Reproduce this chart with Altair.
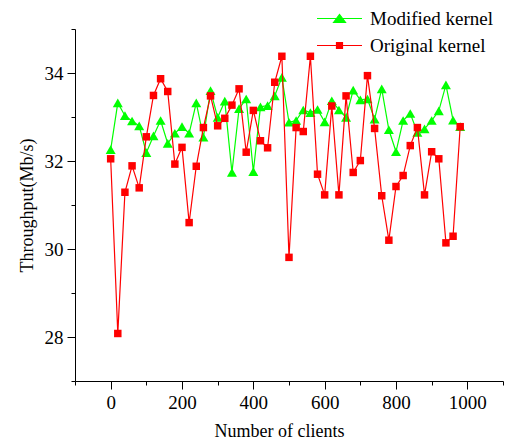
import altair as alt
import pandas as pd

clients = [0, 20, 40, 60, 80, 100, 120, 140, 160, 180,
           200, 220, 240, 260, 280, 300, 320, 340, 360, 380,
           400, 420, 440, 460, 480, 500, 520, 540, 560, 580,
           600, 620, 640, 660, 680, 700, 720, 740, 760, 780,
           800, 820, 840, 860, 880, 900, 920, 940, 960, 980]

modified = [32.26, 33.32, 33.03, 32.91, 32.80, 32.19, 32.57, 32.92, 32.40, 32.63,
            32.78, 32.63, 33.32, 32.54, 33.60, 32.99, 33.36, 31.74, 33.19, 33.41,
            31.76, 33.23, 33.26, 33.48, 33.90, 32.88, 32.92, 33.16, 33.10, 33.17,
            32.89, 33.37, 33.16, 32.99, 33.61, 33.39, 33.41, 32.95, 33.64, 32.71,
            32.21, 32.92, 33.08, 32.65, 32.73, 32.92, 33.14, 33.73, 32.93, 32.78]

original = [32.05, 28.08, 31.29, 31.89, 31.39, 32.55, 33.49, 33.87, 33.58, 31.93,
            32.31, 30.60, 31.88, 32.76, 33.48, 32.80, 32.97, 33.27, 33.64, 32.20,
            33.15, 32.46, 32.30, 33.79, 34.38, 29.81, 32.76, 32.67, 34.38, 31.70,
            31.23, 33.25, 31.23, 33.48, 31.74, 32.01, 33.94, 32.74, 31.21, 30.20,
            31.42, 31.67, 32.35, 32.76, 31.23, 32.21, 32.05, 30.14, 30.29, 32.78]

series_names = ["Modified kernel", "Original kernel"]
series_colors = ["#00ff00", "#ff0000"]
x_ticks = [-100, 0, 100, 200, 300, 400, 500, 600, 700, 800, 900, 1000, 1100]
y_ticks = [27, 28, 29, 30, 31, 32, 33, 34, 35]

df = pd.concat([
    pd.DataFrame({"clients": clients, "tp": modified, "series": series_names[0]}),
    pd.DataFrame({"clients": clients, "tp": original, "series": series_names[1]}),
])

FONT = "Liberation Serif"

x_enc = alt.X(
    "clients:Q",
    scale=alt.Scale(domain=[-100, 1100], nice=False, zero=False),
    axis=alt.Axis(
        values=x_ticks, format="d",
        labelExpr="datum.value % 200 === 0 ? datum.label : ''",
        tickSize={"condition": {"test": "datum.value % 200 === 0", "value": 8}, "value": 4},
        grid=False, domainColor="black", tickColor="black",
        labelFont=FONT, labelFontSize=19, labelColor="black", labelPadding=4,
        title="Number of clients", titleFont=FONT, titleFontSize=18,
        titleFontWeight="normal", titleColor="black", titlePadding=10,
        titleX=204,
    ),
)
y_enc = alt.Y(
    "tp:Q",
    scale=alt.Scale(domain=[27, 35], nice=False, zero=False),
    axis=alt.Axis(
        values=y_ticks, format="d",
        labelExpr="datum.value % 2 === 0 ? datum.label : ''",
        tickSize={"condition": {"test": "datum.value % 2 === 0", "value": 8}, "value": 4},
        grid=False, domainColor="black", tickColor="black",
        labelFont=FONT, labelFontSize=19, labelColor="black", labelPadding=4,
        title="Throughput(Mb/s)", titleFont=FONT, titleFontSize=18,
        titleFontWeight="normal", titleColor="black", titlePadding=8,
    ),
)

base = alt.Chart(df)

green = base.transform_filter(alt.datum.series == series_names[0]).mark_line(
    color=series_colors[0], strokeWidth=1.2,
    point=alt.OverlayMarkDef(shape="triangle-up", size=100, filled=True,
                             color=series_colors[0], opacity=1),
).encode(x=x_enc, y=y_enc)

red = base.transform_filter(alt.datum.series == series_names[1]).mark_line(
    color=series_colors[1], strokeWidth=1.2,
    point=alt.OverlayMarkDef(shape="square", size=56, filled=True,
                             color=series_colors[1], opacity=1),
).encode(x=x_enc, y=y_enc)

tri_path = "M-4.5,0H4.5M-1.2,0.8L0,-0.8L1.2,0.8Z"
sq_path = "M-4.5,0H4.5M-0.6,-0.6H0.6V0.6H-0.6Z"

leg = alt.Legend(
    title=None, orient="none", legendX=255, legendY=-20, padding=0,
    symbolSize=100, symbolStrokeWidth=1.2,
    labelFont=FONT, labelFontSize=19, labelColor="black", labelOffset=21,
    rowPadding=7, fillColor="white",
)

legend_layer = base.transform_filter("datum.clients < -1000").mark_point(
    filled=True, opacity=1
).encode(
    x=x_enc, y=y_enc,
    fill=alt.Fill("series:N", scale=alt.Scale(domain=series_names, range=series_colors), legend=leg),
    stroke=alt.Stroke("series:N", scale=alt.Scale(domain=series_names, range=series_colors), legend=leg),
    shape=alt.Shape("series:N", scale=alt.Scale(domain=series_names, range=[tri_path, sq_path]), legend=leg),
)

chart = alt.layer(green, red, legend_layer).properties(
    width=428, height=352,
    padding={"left": 67, "top": 21, "right": 10, "bottom": 70},
    autosize=alt.AutoSizeParams(type="none"),
    background="white",
).configure_view(strokeWidth=0)

chart.save("out.html", embed_options={"renderer": "svg", "actions": False})
